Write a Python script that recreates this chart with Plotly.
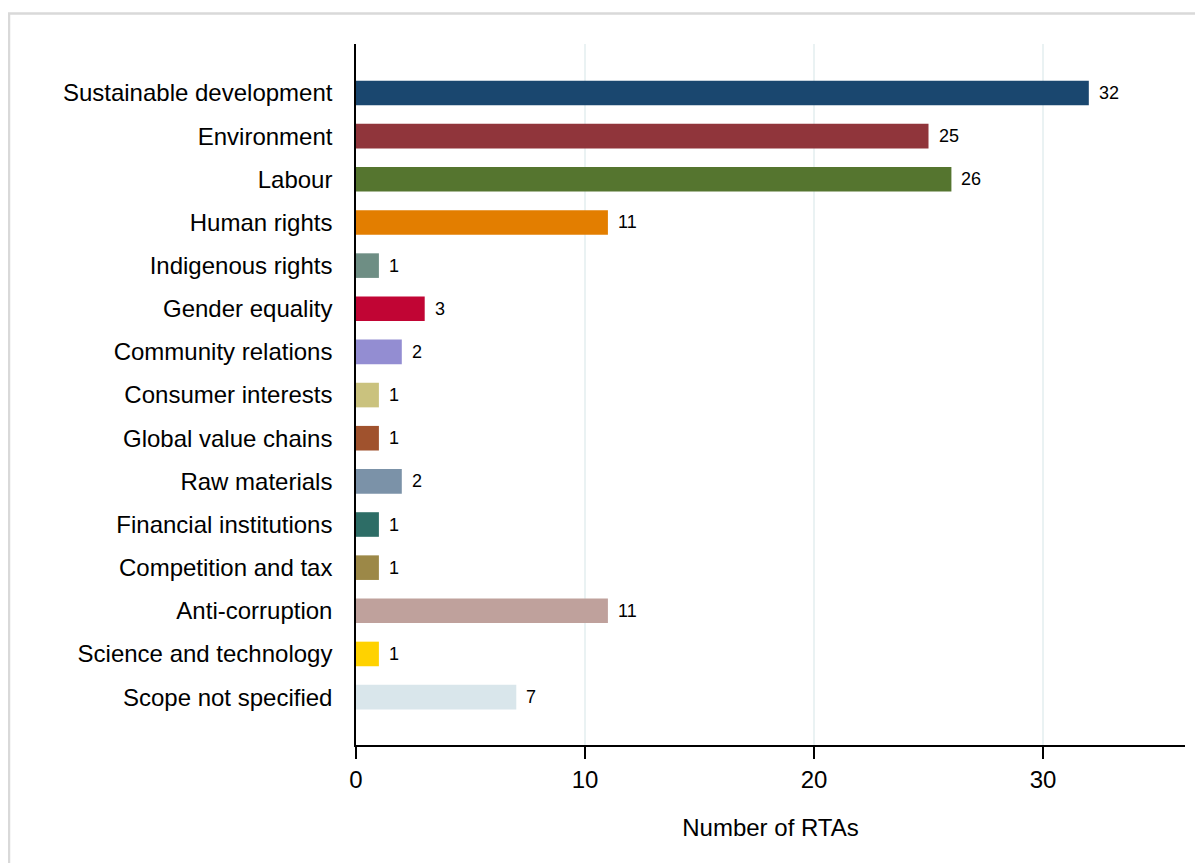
import plotly.graph_objects as go

categories = ["Sustainable development", "Environment", "Labour", "Human rights",
              "Indigenous rights", "Gender equality", "Community relations",
              "Consumer interests", "Global value chains", "Raw materials",
              "Financial institutions", "Competition and tax", "Anti-corruption",
              "Science and technology", "Scope not specified"]
values = [32, 25, 26, 11, 1, 3, 2, 1, 1, 2, 1, 1, 11, 1, 7]
colors = ["#1a476f", "#90353b", "#55752f", "#e37e00", "#6e8e84", "#c10534",
          "#938dd2", "#cac27e", "#a0522d", "#7b92a8", "#2d6d66", "#9c8847",
          "#bfa19c", "#ffd200", "#d9e6eb"]
x_ticks = [0, 10, 20, 30]

FONT = "Liberation Sans, Arial, sans-serif"

fig = go.Figure()
fig.add_trace(go.Bar(
    x=values, y=categories, orientation="h",
    marker=dict(color=colors, line=dict(width=0)),
    width=0.57, showlegend=False, hoverinfo="skip",
))

for c, v in zip(categories, values):
    fig.add_annotation(x=v, y=c, text=str(v), showarrow=False,
                       xanchor="left", xshift=8, yshift=0,
                       font=dict(family=FONT, size=18, color="#000000"))

fig.add_shape(type="rect", xref="paper", yref="paper",
              x0=-0.4186, x1=1.04, y0=-0.19, y1=1.0435,
              line=dict(color="#d9d9d9", width=2.5), fillcolor="rgba(0,0,0,0)",
              layer="below")

fig.update_layout(
    width=1195, height=855,
    margin=dict(l=348, r=18, t=36, b=118),
    paper_bgcolor="white", plot_bgcolor="white",
    font=dict(family=FONT, size=24, color="#000000"),
    xaxis=dict(
        range=[0, 36.2], tickvals=x_ticks, ticktext=[str(t) for t in x_ticks],
        showgrid=True, gridcolor="#eaf2f3", gridwidth=1.5,
        zeroline=False, showline=True, linecolor="#000000", linewidth=1.5,
        ticks="outside", ticklen=12, tickwidth=1.5, tickcolor="#000000",
        tickfont=dict(size=24),
        title=dict(text="Number of RTAs", font=dict(size=24), standoff=28),
    ),
    yaxis=dict(
        type="category", range=[14 + 1.11, -1.136],
        showgrid=False, zeroline=False, showline=True,
        linecolor="#000000", linewidth=1.5, ticks="",
        ticklabelstandoff=17, tickfont=dict(size=24),
    ),
)

fig.write_html("out.html")
